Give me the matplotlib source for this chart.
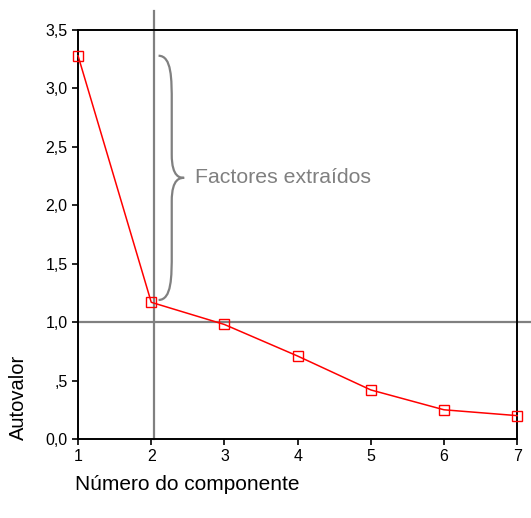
''' Scree plot of eigenvalues by component number.
'''
import matplotlib
matplotlib.use('Agg')
import matplotlib.pyplot as plt
from matplotlib.path import Path
from matplotlib.patches import PathPatch

components = [1, 2, 3, 4, 5, 6, 7]
eigenvalues = [3.28, 1.17, 0.98, 0.71, 0.42, 0.25, 0.20]
yticks = [0.0, 0.5, 1.0, 1.5, 2.0, 2.5, 3.0, 3.5]
ytick_labels = ['0,0', ',5', '1,0', '1,5', '2,0', '2,5', '3,0', '3,5']

plt.rcParams['font.family'] = ['Liberation Sans', 'DejaVu Sans']

fig = plt.figure(figsize=(5.31, 5.18), dpi=100)
ax = fig.add_axes([0.147, 0.1525, 0.827, 0.7895])

gray = '#808080'
ax.axhline(1.0, xmin=0, xmax=1.033, color=gray, lw=1.6, clip_on=False, zorder=1)
ax.axvline(2.04, ymin=0, ymax=1.047, color=gray, lw=1.6, clip_on=False, zorder=1)

ax.plot(components, eigenvalues, color='red', lw=1.1, marker='s', markersize=6.5,
        markerfacecolor='none', markeredgecolor='red', markeredgewidth=1.0, zorder=3,
        clip_on=False)

# curly brace for the extracted factors
bx, btop, bbot, tip = 2.10, 3.28, 1.19, 2.45
mid = (btop + bbot) / 2
arm = 0.18
dy = 0.2
verts = [(bx, btop), (bx + arm, btop), (bx + arm, btop - dy), (bx + arm, btop - 2 * dy),
         (bx + arm, mid + dy),
         (bx + arm, mid), (tip - 0.05, mid), (tip, mid),
         (tip - 0.05, mid), (bx + arm, mid), (bx + arm, mid - dy),
         (bx + arm, bbot + 2 * dy),
         (bx + arm, bbot + dy), (bx + arm, bbot), (bx, bbot)]
codes = [Path.MOVETO, Path.CURVE4, Path.CURVE4, Path.CURVE4,
         Path.LINETO,
         Path.CURVE4, Path.CURVE4, Path.CURVE4,
         Path.CURVE4, Path.CURVE4, Path.CURVE4,
         Path.LINETO,
         Path.CURVE4, Path.CURVE4, Path.CURVE4]
ax.add_patch(PathPatch(Path(verts, codes), facecolor='none', edgecolor=gray, lw=1.6, zorder=2))
ax.text(2.6, mid, 'Factores extraídos', color=gray, fontsize=15.3, va='center', ha='left')

ax.set_xlim(1, 7)
ax.set_ylim(0, 3.5)
ax.set_xticks(components)
ax.set_yticks(yticks)
ax.set_yticklabels(ytick_labels)
ax.tick_params(direction='out', length=4, width=1.2, labelsize=11.5, colors='black')
for s in ax.spines.values():
    s.set_linewidth(1.4)

fig.text(0.034, 0.15, 'Autovalor', rotation=90, fontsize=14.5, ha='center', va='bottom')
fig.text(0.141, 0.064, 'Número do componente', fontsize=15, ha='left', va='center')

fig.savefig('out.png', dpi=100)
